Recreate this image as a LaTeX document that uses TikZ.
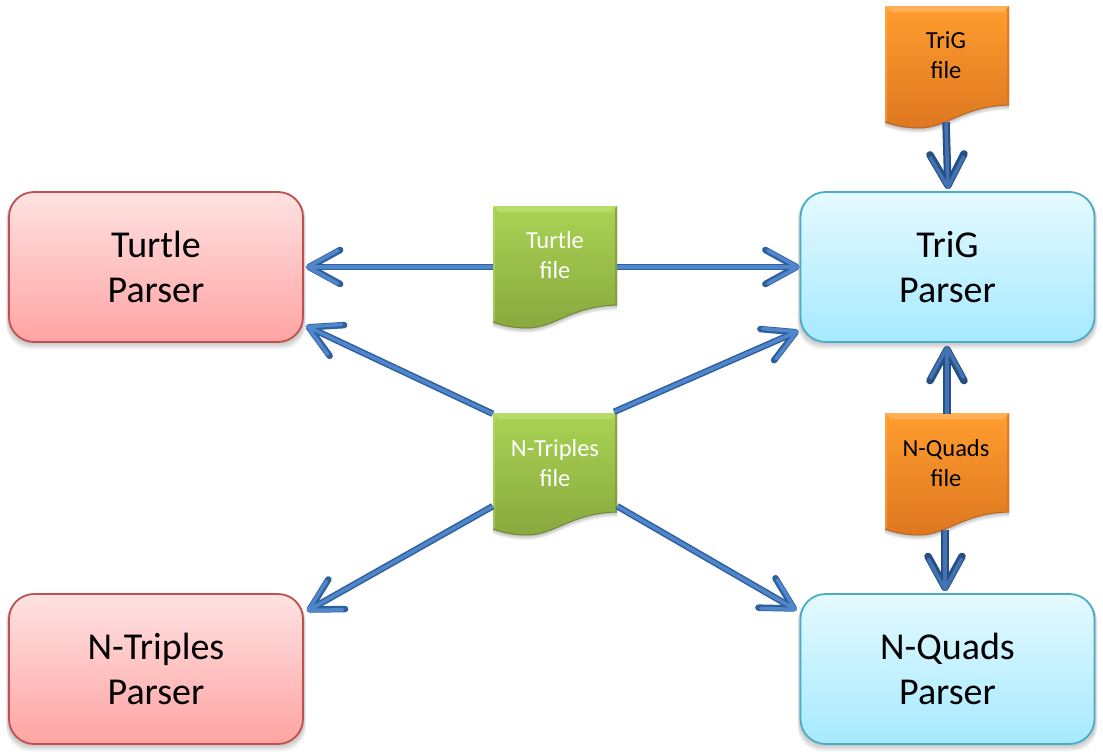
\documentclass[tikz,border=0pt]{standalone}
\usepackage{fontspec}
\setmainfont{Carlito}
\usetikzlibrary{arrows.meta,calc}
\tikzset{
  box/.style={rectangle,rounded corners=25pt,minimum width=294pt,minimum height=150pt,inner sep=0pt,line width=1.8pt,align=center,font=\fontsize{38}{45}\selectfont},
  redbox/.style={box,draw=boxred,top color=redtop,bottom color=redbot},
  cyanbox/.style={box,draw=boxcyan,top color=cyantop,bottom color=cyanbot},
  docanchor/.style={rectangle,minimum width=124pt,minimum height=120pt,inner sep=0pt},
  doclabel/.style={align=center,inner sep=0pt,font=\fontsize{24.5}{30}\selectfont},
  arrdark/.style={draw=arrowdark,line width=6.5pt,-{Straight Barb[round,length=31pt,width=34pt,line width=6.5pt]}},
  arrlight/.style={draw=arrowlight,line width=3.5pt,-{Straight Barb[round,length=30pt,width=33pt,line width=3.5pt]}},
  varrdark/.style={draw=varrowdark,line width=7.5pt,-{Straight Barb[round,length=31pt,width=34pt,line width=7.5pt]}},
  varrlight/.style={draw=varrowlight,line width=3.5pt,-{Straight Barb[round,length=30pt,width=33pt,line width=3.5pt]}}
}
\definecolor{boxred}{HTML}{C0504D}
\definecolor{redtop}{HTML}{FFE2E2}
\definecolor{redbot}{HTML}{FFA3A3}
\definecolor{boxcyan}{HTML}{4BACC6}
\definecolor{cyantop}{HTML}{E4FAFF}
\definecolor{cyanbot}{HTML}{A6E9FF}
\definecolor{arrowdark}{HTML}{2F5F9C}
\definecolor{arrowlight}{HTML}{4F86CC}
\definecolor{varrowdark}{HTML}{274F85}
\definecolor{varrowlight}{HTML}{4373B3}
\definecolor{greentop}{HTML}{A9D354}
\definecolor{greenbot}{HTML}{89A83E}
\definecolor{greenhi}{HTML}{B8DC68}
\definecolor{greenside}{HTML}{7F9A38}
\definecolor{greenline}{HTML}{6F8A35}
\definecolor{orangetop}{HTML}{FF9D2E}
\definecolor{orangebot}{HTML}{DE7720}
\definecolor{orangehi}{HTML}{FFB055}
\definecolor{orangeside}{HTML}{D2761F}
\definecolor{orangeline}{HTML}{B5682A}
% shape of a document, with its top left corner at the origin of the scope
\newcommand\docpath{(0,0) -- (124,0) -- (124,99) .. controls (78,100) and (62,122) .. (34,122) .. controls (22,122) and (10,120) .. (0,116) -- cycle}
% #1 x, #2 y of top left corner, #3 colour prefix
\newcommand\docshape[3]{%
  \begin{scope}[shift={(#1,#2)}]
    \foreach \d in {5,4,3,2,1}{\fill[black,opacity=0.05,shift={(0,\d)}] \docpath;}
    \shade[top color=#3top,bottom color=#3bot] \docpath;
    \fill[#3hi] (0,0) -- (124,0) -- (118,6) -- (6,6) -- cycle;
    \fill[#3side,opacity=.75] (124,0) -- (124,99) -- (122,97) -- (122,2) -- cycle;
    \fill[#3hi,opacity=.5] (0,0) -- (2,2) -- (2,114) -- (0,116) -- cycle;
    \draw[#3line,line width=1pt] (124,99) .. controls (78,100) and (62,122) .. (34,122) .. controls (22,122) and (10,120) .. (0,116);
  \end{scope}}
\newcommand\boxshadow[1]{%
  \foreach \d in {8,6,4,2}{\fill[black,opacity=0.05,rounded corners=25pt] ($(#1.north west)+(-\d/4,\d/2)$) rectangle ($(#1.south east)+(\d/4,\d*0.8)$);}}
\newcommand\conn[2]{\draw[arrdark] #1 -- #2; \draw[arrlight] #1 -- #2;}
\newcommand\vconn[2]{\draw[varrdark] #1 -- #2; \draw[varrlight] #1 -- #2;}
\begin{document}
\begin{tikzpicture}[x=1pt,y=-1pt]
\useasboundingbox (0,0) rectangle (1103,755);
\fill[white] (0,0) rectangle (1103,755);
% parser boxes
\path (156,267) coordinate (tpc) (156,669) coordinate (npc) (947.5,267) coordinate (gpc) (947.5,669) coordinate (qpc);
\path (tpc) node[box,draw=none] (tpd) {} (npc) node[box,draw=none] (npd) {} (gpc) node[box,draw=none] (gpd) {} (qpc) node[box,draw=none] (qpd) {};
\boxshadow{tpd}\boxshadow{npd}\boxshadow{gpd}\boxshadow{qpd}
\node[redbox] (tp) at (tpc) {Turtle\\Parser};
\node[redbox] (np) at (npc) {N-Triples\\Parser};
\node[cyanbox] (gp) at (gpc) {TriG\\Parser};
\node[cyanbox] (qp) at (qpc) {N-Quads\\Parser};
% document shapes
\docshape{493}{206}{green}
\docshape{493}{413}{green}
\docshape{885}{6}{orange}
\docshape{885}{413}{orange}
\node[docanchor] (tf) at (555,267) {};
\node[docanchor] (nf) at (555,474) {};
\node[docanchor] (gf) at (947,66) {};
\node[docanchor] (qf) at (947,473) {};
\node[doclabel,text=white] (tfl) at (555,255) {Turtle\\file};
\node[doclabel,text=white] (nfl) at (555,463) {N-Triples\\file};
\node[doclabel,text=black] (gfl) at (946,55) {TriG\\file};
\node[doclabel,text=black] (qfl) at (946,463) {N-Quads\\file};
% connectors
\conn{(tf.west)}{($(tp.east)+(2,0)$)}
\conn{(tf.east)}{(gp.west)}
\conn{(nf.north west)}{($(tp.south east)+(2,-17)$)}
\conn{($(nf.north east)+(-3,-2)$)}{($(gp.south west)+(-1,-12)$)}
\conn{($(nf.south west)+(0,-28)$)}{($(np.north east)+(3,18)$)}
\conn{($(nf.south east)+(0,-28)$)}{($(qp.north west)+(-3,17)$)}
\vconn{($(gf.south)+(-1,-4)$)}{($(gp.north)+(0.5,-2)$)}
\vconn{($(qf.north)+(0,1)$)}{($(gp.south)+(-0.5,3)$)}
\vconn{($(qf.south)+(-2,-3)$)}{($(qp.north)+(-2.5,-2)$)}
\end{tikzpicture}
\end{document}
